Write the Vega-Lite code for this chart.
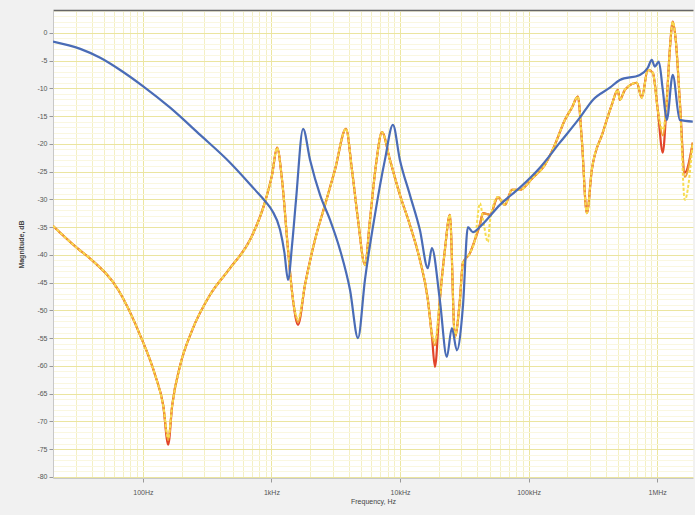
{
  "$schema": "https://vega.github.io/schema/vega-lite/v6.json",
  "width": 640,
  "height": 468,
  "autosize": {"type": "none"},
  "padding": {"left": 53, "top": 10, "right": 2, "bottom": 37},
  "background": "#f1f1f1",
  "config": {
    "view": {"fill": "#ffffff", "stroke": null},
    "font": "Liberation Sans"
  },
  "datasets": {
    "blue": [
      {"f": 20, "db": -1.6}, {"f": 32.6, "db": -2.9}, {"f": 46.6, "db": -4.5}, {"f": 66.6, "db": -6.7},
      {"f": 100, "db": -9.6}, {"f": 163, "db": -13.5}, {"f": 279, "db": -18.4}, {"f": 477, "db": -23.4},
      {"f": 746, "db": -28.3}, {"f": 891, "db": -30.3}, {"f": 1011, "db": -32.0}, {"f": 1167, "db": -35.5},
      {"f": 1260, "db": -39.5}, {"f": 1346, "db": -44.5}, {"f": 1450, "db": -38.0}, {"f": 1553, "db": -30.1},
      {"f": 1762, "db": -17.3}, {"f": 1997, "db": -22.9}, {"f": 2388, "db": -29.2}, {"f": 2856, "db": -33.7},
      {"f": 3415, "db": -39.1}, {"f": 4083, "db": -46.3}, {"f": 4713, "db": -55.0}, {"f": 5337, "db": -44.5},
      {"f": 6381, "db": -32.8}, {"f": 7630, "db": -22.9}, {"f": 8807, "db": -16.6}, {"f": 9980, "db": -22.9},
      {"f": 11930, "db": -29.2}, {"f": 14270, "db": -35.5}, {"f": 16470, "db": -42.4}, {"f": 17690, "db": -38.8},
      {"f": 20400, "db": -48.1}, {"f": 23130, "db": -58.4}, {"f": 25300, "db": -53.2}, {"f": 27680, "db": -57.2},
      {"f": 30830, "db": -49.4}, {"f": 33720, "db": -35.0}, {"f": 36870, "db": -35.9}, {"f": 43340, "db": -34.6},
      {"f": 59820, "db": -31.0}, {"f": 85530, "db": -27.9}, {"f": 122400, "db": -24.3}, {"f": 175000, "db": -19.8},
      {"f": 250500, "db": -15.3}, {"f": 316300, "db": -12.1}, {"f": 428800, "db": -9.9}, {"f": 512600, "db": -8.5},
      {"f": 733400, "db": -7.6}, {"f": 845800, "db": -6.3}, {"f": 908500, "db": -4.9}, {"f": 957900, "db": -6.1},
      {"f": 1030000, "db": -5.2}, {"f": 1106000, "db": -10.3}, {"f": 1188000, "db": -15.7}, {"f": 1322000, "db": -7.6},
      {"f": 1499000, "db": -15.7}, {"f": 1892000, "db": -16.0}
    ],
    "warm": [
      {"f": 20, "r": -34.8, "o": -34.8, "y": -34.8},
      {"f": 30.9, "r": -38.8, "o": -38.8, "y": -38.8},
      {"f": 39, "r": -40.7, "o": -40.7, "y": -40.7},
      {"f": 64.3, "r": -46.3, "o": -46.3, "y": -46.3},
      {"f": 95.3, "r": -54.5, "o": -54.5, "y": -54.5},
      {"f": 124.7, "r": -61.7, "o": -61.7, "y": -61.7},
      {"f": 143.9, "r": -67.1, "o": -67.1, "y": -67.1},
      {"f": 157.4, "r": -74.2, "o": -73.4, "y": -73.0},
      {"f": 169.1, "r": -67.1, "o": -67.1, "y": -67.1},
      {"f": 195.1, "r": -59.9, "o": -59.9, "y": -59.9},
      {"f": 241.5, "r": -53.6, "o": -53.6, "y": -53.6},
      {"f": 333.3, "r": -47.2, "o": -47.2, "y": -47.2},
      {"f": 476.5, "r": -42.4, "o": -42.4, "y": -42.4},
      {"f": 682, "r": -37.3, "o": -37.3, "y": -37.3},
      {"f": 891, "r": -30.5, "o": -30.5, "y": -30.5},
      {"f": 1011, "r": -25.6, "o": -25.6, "y": -25.6},
      {"f": 1106, "r": -20.7, "o": -20.7, "y": -20.7},
      {"f": 1209, "r": -26.5, "o": -26.5, "y": -26.5},
      {"f": 1346, "r": -39.1, "o": -39.1, "y": -39.1},
      {"f": 1471, "r": -48.1, "o": -48.1, "y": -48.1},
      {"f": 1610, "r": -52.6, "o": -52.1, "y": -51.5},
      {"f": 1824, "r": -45.4, "o": -45.4, "y": -45.4},
      {"f": 2182, "r": -37.3, "o": -37.3, "y": -37.3},
      {"f": 2610, "r": -31.0, "o": -31.0, "y": -31.0},
      {"f": 3120, "r": -24.7, "o": -24.7, "y": -24.7},
      {"f": 3800, "r": -17.3, "o": -17.3, "y": -17.3},
      {"f": 4230, "r": -24.7, "o": -24.7, "y": -24.7},
      {"f": 4713, "r": -33.7, "o": -33.7, "y": -33.7},
      {"f": 5337, "r": -41.8, "o": -41.8, "y": -41.8},
      {"f": 5838, "r": -33.7, "o": -33.7, "y": -33.7},
      {"f": 6500, "r": -23.8, "o": -23.8, "y": -23.8},
      {"f": 7240, "r": -17.9, "o": -17.9, "y": -17.9},
      {"f": 8350, "r": -22.9, "o": -22.9, "y": -22.9},
      {"f": 9980, "r": -29.2, "o": -29.2, "y": -29.2},
      {"f": 11930, "r": -34.6, "o": -34.6, "y": -34.6},
      {"f": 14270, "r": -40.9, "o": -40.9, "y": -40.9},
      {"f": 16470, "r": -48.1, "o": -48.1, "y": -48.1},
      {"f": 17690, "r": -54.5, "o": -54.5, "y": -54.0},
      {"f": 18700, "r": -60.2, "o": -56.3, "y": -55.5},
      {"f": 20400, "r": -48.1, "o": -48.1, "y": -48.1},
      {"f": 22340, "r": -39.1, "o": -39.1, "y": -39.1},
      {"f": 24430, "r": -32.8, "o": -32.8, "y": -32.8},
      {"f": 26720, "r": -54.8, "o": -54.8, "y": -54.8},
      {"f": 29220, "r": -48.1, "o": -48.1, "y": -48.1},
      {"f": 30830, "r": -41.5, "o": -41.5, "y": -41.5},
      {"f": 34970, "r": -39.7, "o": -39.7, "y": -39.7},
      {"f": 38240, "r": -37.3, "o": -37.3, "y": -37.3},
      {"f": 41880, "r": -34.5, "o": -34.5, "y": -30.7},
      {"f": 44140, "r": -32.5, "o": -32.5, "y": -33.5},
      {"f": 48310, "r": -32.7, "o": -32.7, "y": -37.7},
      {"f": 50040, "r": -32.8, "o": -32.8, "y": -34.0},
      {"f": 57720, "r": -29.6, "o": -29.6, "y": -29.6},
      {"f": 65430, "r": -31.0, "o": -31.0, "y": -31.0},
      {"f": 74180, "r": -28.3, "o": -28.3, "y": -28.3},
      {"f": 85530, "r": -28.3, "o": -28.3, "y": -28.3},
      {"f": 107900, "r": -26.1, "o": -26.1, "y": -26.1},
      {"f": 133900, "r": -23.8, "o": -23.8, "y": -23.8},
      {"f": 160000, "r": -20.2, "o": -20.2, "y": -20.2},
      {"f": 191500, "r": -15.7, "o": -15.7, "y": -15.7},
      {"f": 217100, "r": -13.5, "o": -13.5, "y": -13.5},
      {"f": 241500, "r": -11.5, "o": -11.5, "y": -11.5},
      {"f": 259500, "r": -19.3, "o": -19.3, "y": -19.3},
      {"f": 283800, "r": -32.5, "o": -32.5, "y": -32.5},
      {"f": 310400, "r": -24.7, "o": -24.7, "y": -24.7},
      {"f": 377600, "r": -18.0, "o": -18.0, "y": -18.0},
      {"f": 443700, "r": -13.0, "o": -13.0, "y": -13.0},
      {"f": 494000, "r": -10.3, "o": -10.3, "y": -10.3},
      {"f": 512600, "r": -12.1, "o": -12.1, "y": -12.1},
      {"f": 560400, "r": -10.3, "o": -10.3, "y": -10.3},
      {"f": 694800, "r": -9.0, "o": -9.0, "y": -9.0},
      {"f": 758800, "r": -11.7, "o": -11.7, "y": -11.7},
      {"f": 845800, "r": -6.7, "o": -6.7, "y": -6.7},
      {"f": 924800, "r": -7.2, "o": -7.2, "y": -7.2},
      {"f": 1011000, "r": -13.9, "o": -13.9, "y": -13.9},
      {"f": 1106000, "r": -21.6, "o": -18.5, "y": -17.5},
      {"f": 1188000, "r": -12.1, "o": -12.1, "y": -12.1},
      {"f": 1254000, "r": -3.1, "o": -3.1, "y": -3.1},
      {"f": 1322000, "r": 2.0, "o": 2.0, "y": 2.0},
      {"f": 1395000, "r": -1.3, "o": -1.3, "y": -1.3},
      {"f": 1499000, "r": -12.1, "o": -12.1, "y": -12.1},
      {"f": 1640000, "r": -25.2, "o": -26.0, "y": -30.1},
      {"f": 1892000, "r": -19.8, "o": -19.8, "y": -19.8}
    ]
  },
  "resolve": {"axis": {"x": "independent", "y": "independent"}},
  "layer": [
    {
      "data": {"name": "warm"},
      "mark": {"type": "line", "color": "#e2452a", "strokeWidth": 2.2, "clip": true, "interpolate": "monotone"},
      "encoding": {
        "x": {
          "field": "f", "type": "quantitative",
          "scale": {"type": "log", "domain": [20, 1900000], "nice": false},
          "axis": {
            "values": [20,30,40,50,60,70,80,90,100,200,300,400,500,600,700,800,900,1000,2000,3000,4000,5000,6000,7000,8000,9000,10000,20000,30000,40000,50000,60000,70000,80000,90000,100000,200000,300000,400000,500000,600000,700000,800000,900000,1000000],
            "labelExpr": "datum.value == 100 ? '100Hz' : datum.value == 1000 ? '1kHz' : datum.value == 10000 ? '10kHz' : datum.value == 100000 ? '100kHz' : datum.value == 1000000 ? '1MHz' : ''",
            "labelFontSize": 7, "labelColor": "#555555", "labelPadding": 6, "labelFlush": false, "labelOverlap": false,
            "tickColor": {"expr": "indexof([100,1000,10000,100000,1000000], datum.value) >= 0 ? '#999999' : 'transparent'"},
            "tickSize": 4,
            "gridColor": {"expr": "indexof([100,1000,10000,100000,1000000], datum.value) >= 0 ? '#ece6a0' : '#f4f0c4'"},
            "gridWidth": 1,
            "domainColor": "#c8c8c8",
            "title": "Frequency, Hz", "titleFontSize": 7, "titleFontWeight": "normal", "titleColor": "#444444", "titlePadding": 2
          }
        },
        "y": {
          "field": "r", "type": "quantitative",
          "scale": {"domain": [-80.2, 4.1], "nice": false, "zero": false},
          "axis": {
            "values": [-80,-79,-78,-77,-76,-75,-74,-73,-72,-71,-70,-69,-68,-67,-66,-65,-64,-63,-62,-61,-60,-59,-58,-57,-56,-55,-54,-53,-52,-51,-50,-49,-48,-47,-46,-45,-44,-43,-42,-41,-40,-39,-38,-37,-36,-35,-34,-33,-32,-31,-30,-29,-28,-27,-26,-25,-24,-23,-22,-21,-20,-19,-18,-17,-16,-15,-14,-13,-12,-11,-10,-9,-8,-7,-6,-5,-4,-3,-2,-1,0,1,2,3,4],
            "labelExpr": "(datum.value % 5 == 0 && datum.value <= 0) ? '' + datum.value : ''",
            "labelFontSize": 7, "labelColor": "#555555", "labelPadding": 2, "labelOverlap": false, "labelBound": false,
            "tickColor": {"expr": "(datum.value % 5 == 0 && datum.value <= 0) ? '#999999' : 'transparent'"},
            "tickSize": 4,
            "gridColor": {"expr": "datum.value % 5 == 0 ? '#ebe5a0' : '#faf7e0'"},
            "domainColor": "#c8c8c8",
            "title": "Magnitude, dB", "titleFontSize": 7, "titleFontWeight": "bold", "titleColor": "#444444", "titlePadding": 12
          }
        }
      }
    },
    {
      "data": {"name": "warm"},
      "mark": {"type": "line", "color": "#f0a035", "strokeWidth": 2, "clip": true, "interpolate": "monotone"},
      "encoding": {
        "x": {"field": "f", "type": "quantitative", "axis": {"orient": "top", "labels": false, "ticks": false, "grid": false, "title": null, "domainColor": "#666666", "domainWidth": 1.5}},
        "y": {"field": "o", "type": "quantitative", "axis": null}
      }
    },
    {
      "data": {"name": "warm"},
      "mark": {"type": "line", "color": "#f7dc50", "strokeWidth": 2, "strokeDash": [3, 2], "clip": true, "interpolate": "monotone"},
      "encoding": {
        "x": {"field": "f", "type": "quantitative", "axis": null},
        "y": {"field": "y", "type": "quantitative", "axis": null}
      }
    },
    {
      "data": {"name": "blue"},
      "mark": {"type": "line", "color": "#4a6cb6", "strokeWidth": 2.2, "clip": true, "interpolate": "monotone"},
      "encoding": {
        "x": {"field": "f", "type": "quantitative", "axis": null},
        "y": {"field": "db", "type": "quantitative", "axis": null}
      }
    }
  ]
}
